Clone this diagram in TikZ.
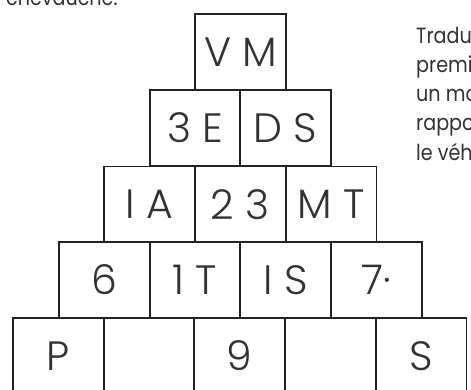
\documentclass[tikz,border=0pt]{standalone}
\usepackage{fontspec}
\setmainfont{Poppins}[UprightFont={* Light}]
\newfontfamily\prosefont{Poppins}[FakeStretch=0.87]
\usepackage{tikz}
\definecolor{inkdark}{RGB}{35,35,35}
\definecolor{inktext}{RGB}{50,50,50}
\def\bw{90.7}
\def\bh{76}
\tikzset{
  brick/.style={draw=inkdark, line width=1.7pt, minimum width=\bw pt, minimum height=\bh pt,
    inner sep=0pt, text=inktext, font=\fontsize{41}{41}\selectfont},
  prose/.style={anchor=base west, inner sep=0pt, text=inktext, font=\prosefont\fontsize{22}{29}\selectfont}
}
\newcommand{\Brick}[4]{%
  % #1 name, #2 x-centre, #3 y-centre, #4 letters
  \node[brick] (#1) at (#2,#3) {#4};
}

\begin{document}
\begin{tikzpicture}[x=1pt,y=-1pt]
  \useasboundingbox (0,0) rectangle (471,390);
  \clip (0,0) rectangle (471,390);

  % text cut off around the pyramid
  \node[prose] (prev) at (6,6) {chevauche.};
  \node[prose] (lineA) at (416,44) {Tradu};
  \node[prose] (lineB) at (416,73) {premi};
  \node[prose] (lineC) at (416,102) {un mo};
  \node[prose] (lineD) at (416,131) {rappo};
  \node[prose] (lineE) at (416,161) {le véh};

  % =======================
  % Row 1
  % =======================
  \Brick{r1a}{240.5}{52}{V M}

  % =======================
  % Row 2
  % =======================
  \Brick{r2a}{195}{128}{3 E}
  \Brick{r2b}{285.5}{128}{D S}

  % =======================
  % Row 3
  % =======================
  \Brick{r3a}{149.5}{204.5}{I A}
  \Brick{r3b}{240}{204.5}{2 3}
  \Brick{r3c}{331}{204.5}{M T}

  % =======================
  % Row 4
  % =======================
  \Brick{r4a}{104.5}{280}{6}
  \Brick{r4b}{195}{280}{1 T}
  \Brick{r4c}{285.5}{280}{I S}
  \Brick{r4d}{376.5}{280}{7·}

  % =======================
  % Row 5 (cut at the bottom)
  % =======================
  \Brick{r5a}{58.5}{356}{P}
  \Brick{r5b}{149}{356}{}
  \Brick{r5c}{239.5}{356}{9}
  \Brick{r5d}{330.5}{356}{}
  \Brick{r5e}{421}{356}{S}

\end{tikzpicture}
\end{document}
